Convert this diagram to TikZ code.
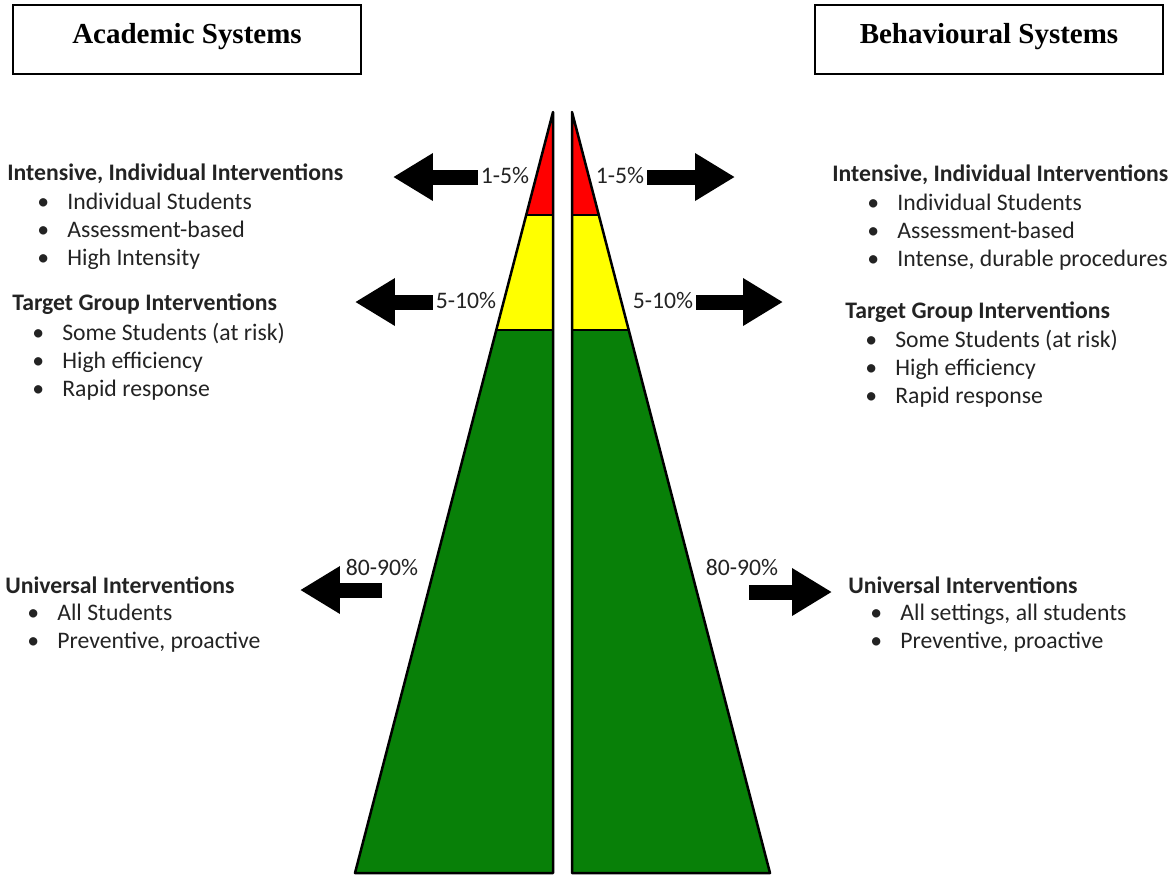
\documentclass[tikz,border=0pt]{standalone}
\usepackage{fontspec}
\setmainfont{Liberation Serif}
\newfontfamily\calib{Carlito}
\usetikzlibrary{arrows.meta,positioning,calc}
\definecolor{pyrred}{RGB}{255,0,0}
\definecolor{pyryellow}{RGB}{255,255,0}
\definecolor{pyrgreen}{RGB}{8,128,8}
\definecolor{txtgray}{RGB}{35,35,35}
\newcommand{\itm}[2][0.6cm]{\hspace*{#1}\makebox[0.6cm][l]{\textbullet}#2}

\begin{document}
\begin{tikzpicture}[x=0.02cm, y=-0.02cm,
    titlebox/.style={draw, line width=0.045cm, minimum width=6.96cm, minimum height=1.38cm, text height=0.5cm, text depth=0.36cm, font=\fontsize{16.5}{20}\selectfont\bfseries},
    grp/.style={anchor=north west, inner sep=0pt, align=left, text=txtgray, font=\calib\fontsize{13.5}{15.9}\selectfont},
    pct/.style={inner sep=1.5pt, text=txtgray, font=\calib\fontsize{13.5}{15}\selectfont},
    blk/.style={line width=0.3cm, -{Triangle[length=0.8cm, width=0.9cm]}},
    edge/.style={line width=0.05cm, line join=round}
]
\useasboundingbox (0,0) rectangle (1170,877);

% titles
\node[titlebox] (acad) at (187,39.5) {Academic Systems};
\node[titlebox] (behav) at (989,39.5) {Behavioural Systems};

% left half of the pyramid
\coordinate (lTop) at (553,112);
\coordinate (lBot) at (355,873);
\coordinate (lMid) at (553,873);
\fill[pyrred] (lTop) -- (553,215) -- (526.2,215) -- cycle;
\fill[pyryellow] (526.2,215) -- (553,215) -- (553,330) -- (496.3,330) -- cycle;
\fill[pyrgreen] (496.3,330) -- (553,330) -- (lMid) -- (lBot) -- cycle;
\draw[edge] (lTop) -- (lMid) -- (lBot) -- cycle;
\draw[edge] (526.2,215) -- (553,215);
\draw[edge] (496.3,330) -- (553,330);

% right half of the pyramid
\coordinate (rTop) at (572,112);
\coordinate (rBot) at (770,873);
\coordinate (rMid) at (572,873);
\fill[pyrred] (rTop) -- (572,215) -- (598.8,215) -- cycle;
\fill[pyryellow] (598.8,215) -- (572,215) -- (572,330) -- (628.7,330) -- cycle;
\fill[pyrgreen] (628.7,330) -- (572,330) -- (rMid) -- (rBot) -- cycle;
\draw[edge] (rTop) -- (rMid) -- (rBot) -- cycle;
\draw[edge] (598.8,215) -- (572,215);
\draw[edge] (628.7,330) -- (572,330);

% percentages
\node[pct] (p1L) at (505,175) {1-5\%};
\node[pct] (p1R) at (620,175) {1-5\%};
\node[pct] (p2L) at (466,300) {5-10\%};
\node[pct] (p2R) at (663,300) {5-10\%};
\node[pct] (p3L) at (382,567) {80-90\%};
\node[pct] (p3R) at (742,567) {80-90\%};

% block arrows
\coordinate (t1L) at (393,177);
\coordinate (t1R) at (735,177);
\coordinate (t2L) at (355,302);
\coordinate (t2R) at (783,302);
\coordinate (s3L) at (382,590);
\coordinate (t3L) at (300,590);
\coordinate (s3R) at (749,592);
\coordinate (t3R) at (832,592);
\draw[blk] (p1L.west |- t1L) -- (t1L);
\draw[blk] (p1R.east |- t1R) -- (t1R);
\draw[blk] (p2L.west |- t2L) -- (t2L);
\draw[blk] (p2R.east |- t2R) -- (t2R);
\draw[blk] (s3L) -- (t3L);
\draw[blk] (s3R) -- (t3R);

% academic side
\node[grp] (aInt) at (7,163) {\textbf{Intensive, Individual Interventions}\\[0.04cm]
  \itm{Individual Students}\\ \itm{Assessment-based}\\ \itm{High Intensity}};
\node[grp] (aTgt) at (12,293) {\textbf{Target Group Interventions}\\[0.06cm]
  \itm[0.4cm]{Some Students (at risk)}\\ \itm[0.4cm]{High efficiency}\\ \itm[0.4cm]{Rapid response}};
\node[grp] (aUni) at (5,576) {\textbf{Universal Interventions}\\
  \itm[0.44cm]{All Students}\\ \itm[0.44cm]{Preventive, proactive}};

% behavioural side
\node[grp] (bInt) at (832,164) {\textbf{Intensive, Individual Interventions}\\[0.04cm]
  \itm[0.7cm]{Individual Students}\\ \itm[0.7cm]{Assessment-based}\\ \itm[0.7cm]{Intense, durable procedures}};
\node[grp] (bTgt) at (845,301) {\textbf{Target Group Interventions}\\[0.04cm]
  \itm[0.4cm]{Some Students (at risk)}\\ \itm[0.4cm]{High efficiency}\\ \itm[0.4cm]{Rapid response}};
\node[grp] (bUni) at (848,576) {\textbf{Universal Interventions}\\
  \itm[0.44cm]{All settings, all students}\\ \itm[0.44cm]{Preventive, proactive}};
\end{tikzpicture}
\end{document}
